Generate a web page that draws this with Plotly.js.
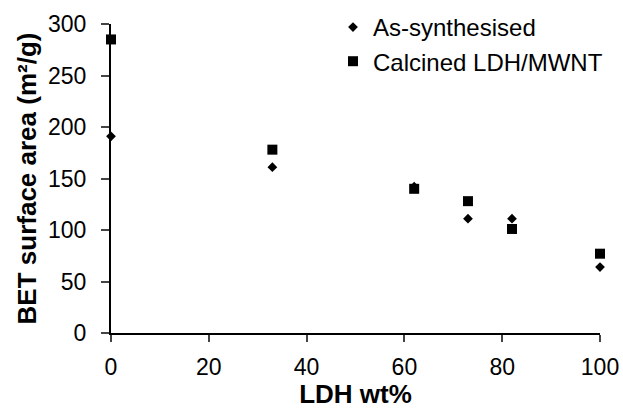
<!DOCTYPE html>
<html>
<head>
<meta charset="utf-8">
<script src="https://cdn.plot.ly/plotly-3.0.1.min.js"></script>
<style>html,body{margin:0;padding:0;background:#fff;}#chart{width:623px;height:409px;}</style>
</head>
<body>
<div id="chart"></div>
<script>
const ldh = [0, 33, 62, 73, 82, 100];
const asSynthesised = [191, 161, 142, 111, 111, 64];
const calcined = [285, 178, 140, 128, 101, 77];
const seriesNames = ["As-synthesised", "Calcined LDH/MWNT"];
const xTicks = [0, 20, 40, 60, 80, 100];
const yTicks = [0, 50, 100, 150, 200, 250, 300];

const font = "Liberation Sans, Arial, sans-serif";
const traces = [
  {x: ldh, y: asSynthesised, name: seriesNames[0], type: "scatter", mode: "markers",
   cliponaxis: false, marker: {symbol: "diamond", size: 7.5, color: "#000"}},
  {x: ldh, y: calcined, name: seriesNames[1], type: "scatter", mode: "markers",
   cliponaxis: false, marker: {symbol: "square", size: 10, color: "#000"}}
];
const layout = {
  width: 623, height: 409,
  margin: {l: 111, r: 23, t: 24, b: 76, autoexpand: false},
  paper_bgcolor: "#fff", plot_bgcolor: "#fff",
  font: {family: font, color: "#000", size: 23},
  showlegend: true,
  legend: {xref: "container", yref: "container", x: 0.5345, xanchor: "left", y: 0.988, yanchor: "top",
           bgcolor: "rgba(0,0,0,0)", font: {size: 24, family: font}, tracegroupgap: 0},
  xaxis: {range: [0, 100], tickvals: xTicks, ticks: "outside", ticklen: 7, tickwidth: 2,
          showline: true, linewidth: 2, linecolor: "#000", showgrid: false, zeroline: false,
          ticklabelstandoff: 5, automargin: false,
          tickfont: {size: 23}, title: {text: "<b>LDH wt%</b>", font: {size: 26}, standoff: 9}},
  yaxis: {range: [0, 300], tickvals: yTicks, ticks: "outside", ticklen: 8, tickwidth: 2,
          showline: true, linewidth: 2, linecolor: "#000", showgrid: false, zeroline: false,
          ticklabelstandoff: 10, automargin: false,
          tickfont: {size: 23}, title: {text: "<b>BET surface area (m²/g)</b>", font: {size: 26}, standoff: 4}}
};
Plotly.newPlot("chart", traces, layout, {displayModeBar: false, staticPlot: true});
</script>
</body>
</html>
